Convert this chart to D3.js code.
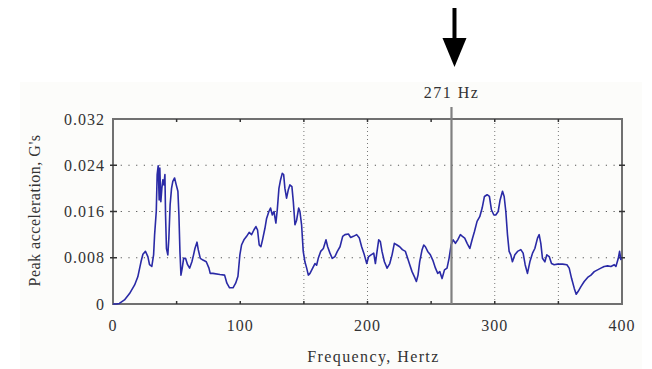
<!DOCTYPE html>
<html>
<head>
<meta charset="utf-8">
<script src="https://cdn.jsdelivr.net/npm/d3@7"></script>
<style>
  body { margin: 0; background: #fff; }
  svg { display: block; }
  text { font-family: "Liberation Serif", "Times New Roman", serif; fill: #333; }
</style>
</head>
<body>
<div id="chart"></div>
<script>
// Frequency (Hz) and peak acceleration (G's)
const freq = [0, 2.5, 5, 9, 13, 17, 19.5, 22, 23.5, 25.5, 27.4, 28.7, 30.5, 31.9, 32.7, 34, 34.7, 35.5, 36.3, 36.8,
  37.6, 38.4, 39.2, 40, 40.8, 41.3, 42, 43.1, 43.9, 44.9, 46, 47, 48.4, 49.7, 51, 51.8, 52.6, 53.4, 54.4, 55.5,
  57, 58.6, 60.2, 62, 63.3, 64.4, 66, 67, 68.6, 70.7, 73.3, 75.4, 76.4, 78.5, 84, 87.7, 89.5, 91.6, 94.3, 96.4,
  98.2, 99.7, 101, 102.9, 105, 107, 108.9, 110.7, 112.3, 113.6, 114.9, 116.2, 117.5, 119.4, 120.7, 122.5, 123.8, 125.2, 126.5, 128,
  129.1, 130.4, 131.7, 133, 134.1, 135.1, 136.4, 137.7, 139, 140.6, 141.7, 143, 144.3, 145.9, 146.9, 148.2, 149.5, 150.8, 152.2, 153.5,
  154.8, 156.9, 158.7, 160, 161.3, 163.2, 165.3, 167.4, 168.7, 170.5, 172.3, 174.4, 176.3, 178.4, 180.5, 182.3, 185, 186.8,
  188.9, 191.5, 193.6, 195.4, 197.5, 199.4, 200.9, 202.8, 204.9, 206.2, 207.5, 208.8, 210.1, 211.4, 213.3, 215.4, 217.5, 219.3,
  221.1, 223.2, 225.3, 227.4, 229.8, 231.1, 233.2, 235, 236.9, 238.4, 239.7, 241, 242.9, 244.2, 245.5, 247.3, 249.4, 251.3,
  253.4, 255.2, 256.8, 258.6, 260.5, 262.5, 264.1, 265.7, 267.3, 269.1, 270.9, 273, 274.6, 276.4, 278.3, 280.4, 282.2, 284,
  286.1, 288.2, 290.1, 291.9, 294, 295.8, 297.4, 299.3, 300.8, 302.7, 304.2, 306.1, 307.4, 308.7, 310, 311.3, 312.6, 313.9,
  315.8, 317.9, 320.5, 322.3, 323.9, 325.7, 327.6, 329.7, 331.5, 333.6, 334.9, 336.2, 337.5, 339.4, 340.9, 342.8, 344.6, 346.7,
  349.3, 353.3, 356.7, 358.5, 360.4, 362.5, 364, 365.6, 367.7, 370.3, 373, 375.6, 378.2, 380.8, 383.4, 386, 388.7, 391.3,
  393.9, 395.2, 397.1, 398.1, 399.2];
const accel = [0, 0, 0.0001, 0.0007, 0.0018, 0.0033, 0.0047, 0.0073, 0.0086, 0.0091, 0.0082, 0.0068, 0.0065, 0.0085, 0.012, 0.016, 0.0224, 0.0239, 0.018, 0.0235,
  0.0177, 0.020, 0.0215, 0.0206, 0.0224, 0.0154, 0.0096, 0.0085, 0.0114, 0.0172, 0.020, 0.0212, 0.0218, 0.0206, 0.0195, 0.0154, 0.0091, 0.005, 0.0062, 0.0079,
  0.0079, 0.0068, 0.0062, 0.0073, 0.0085, 0.0096, 0.0107, 0.0094, 0.0079, 0.0076, 0.0073, 0.0062, 0.0053, 0.0053, 0.0051, 0.005, 0.0036, 0.0028, 0.0028, 0.0036,
  0.0048, 0.0085, 0.0102, 0.0111, 0.0117, 0.0124, 0.012, 0.0128, 0.0134, 0.0128, 0.0102, 0.0099, 0.0111, 0.0131, 0.0148, 0.016, 0.0166, 0.0154, 0.016, 0.014,
  0.0163, 0.020, 0.0215, 0.0226, 0.0224, 0.020, 0.0183, 0.0197, 0.0206, 0.0203, 0.0177, 0.0137, 0.0145, 0.0166, 0.016, 0.0137, 0.0091, 0.0073, 0.0062, 0.005,
  0.0053, 0.0062, 0.007, 0.0067, 0.0079, 0.0091, 0.0096, 0.0111, 0.0099, 0.0088, 0.0079, 0.0082, 0.0091, 0.0099, 0.0117, 0.012, 0.0121, 0.0115,
  0.0117, 0.012, 0.0114, 0.0099, 0.0085, 0.007, 0.0082, 0.0085, 0.0088, 0.007, 0.0091, 0.0111, 0.0108, 0.0091, 0.0073, 0.0062, 0.007, 0.0085,
  0.0105, 0.0102, 0.0099, 0.0094, 0.0091, 0.0082, 0.0068, 0.0056, 0.0047, 0.0039, 0.005, 0.0073, 0.0094, 0.0102, 0.0099, 0.0091, 0.0085, 0.0076,
  0.0062, 0.0053, 0.0056, 0.0044, 0.0059, 0.0062, 0.0079, 0.0102, 0.0111, 0.0105, 0.0111, 0.012, 0.0117, 0.0114, 0.0105, 0.0096, 0.0111, 0.0125,
  0.0143, 0.0151, 0.0166, 0.0186, 0.0189, 0.0186, 0.0163, 0.0154, 0.0154, 0.016, 0.018, 0.0195, 0.0186, 0.016, 0.012, 0.0091, 0.0085, 0.0073,
  0.0085, 0.0091, 0.0094, 0.0088, 0.0068, 0.0053, 0.0073, 0.0088, 0.0096, 0.0114, 0.012, 0.0105, 0.0079, 0.0073, 0.0085, 0.0082, 0.007, 0.0068,
  0.0069, 0.0069, 0.0068, 0.0062, 0.0044, 0.0027, 0.0017, 0.0022, 0.003, 0.0039, 0.0046, 0.005, 0.0056, 0.0059, 0.0062, 0.0065, 0.0066, 0.0065,
  0.0068, 0.0065, 0.0079, 0.0091, 0.0076];

const xTicks = [0, 100, 200, 300, 400];
const xMinorTicks = [50, 100, 150, 200, 250, 300, 350];
const xGrid = [150, 200, 300, 350];
const yTicks = [0, 0.008, 0.016, 0.024, 0.032];
const yTickLabels = ['0', '0.008', '0.016', '0.024', '0.032'];
const markerFreq = 266;
const markerLabel = '271 Hz';

const width = 652, height = 369;
const margin = { top: 119, right: 30, bottom: 65, left: 113 };
const plotW = width - margin.left - margin.right;
const plotH = height - margin.top - margin.bottom;

const svg = d3.select('#chart').append('svg')
  .attr('width', width)
  .attr('height', height);

// light panel behind the chart
svg.append('rect')
  .attr('x', 20).attr('y', 82)
  .attr('width', 622).attr('height', height - 82)
  .attr('fill', '#fcfcfa');

const g = svg.append('g')
  .attr('transform', `translate(${margin.left},${margin.top})`);

const x = d3.scaleLinear().domain([0, 400]).range([0, plotW]);
const y = d3.scaleLinear().domain([0, 0.032]).range([plotH, 0]);

// dotted grid
g.selectAll('.hgrid').data(yTicks.slice(1, -1)).enter().append('line')
  .attr('x1', 0).attr('x2', plotW)
  .attr('y1', d => y(d)).attr('y2', d => y(d))
  .attr('stroke', '#555').attr('stroke-width', 1.2)
  .attr('stroke-dasharray', '1.2,6.5');

g.selectAll('.vgrid').data(xGrid).enter().append('line')
  .attr('x1', d => x(d)).attr('x2', d => x(d))
  .attr('y1', 0).attr('y2', plotH)
  .attr('stroke', '#777').attr('stroke-width', 1)
  .attr('stroke-dasharray', '1,3');

// frame
g.append('rect')
  .attr('width', plotW).attr('height', plotH)
  .attr('fill', 'none')
  .attr('stroke', '#707070').attr('stroke-width', 2);

// small ticks on top and bottom edges
g.selectAll('.ttick').data(xMinorTicks).enter().append('line')
  .attr('x1', d => x(d)).attr('x2', d => x(d))
  .attr('y1', 0).attr('y2', 3)
  .attr('stroke', '#333').attr('stroke-width', 1.5);
g.selectAll('.btick').data(xMinorTicks).enter().append('line')
  .attr('x1', d => x(d)).attr('x2', d => x(d))
  .attr('y1', plotH).attr('y2', plotH - 3)
  .attr('stroke', '#333').attr('stroke-width', 1.5);

// ticks on left and right edges
g.selectAll('.ltick').data(yTicks.slice(1, -1)).enter().append('line')
  .attr('x1', -3).attr('x2', 4)
  .attr('y1', d => y(d)).attr('y2', d => y(d))
  .attr('stroke', '#333').attr('stroke-width', 1.5);
g.selectAll('.rtick').data(yTicks.slice(1, -1)).enter().append('line')
  .attr('x1', plotW - 3).attr('x2', plotW + 3)
  .attr('y1', d => y(d)).attr('y2', d => y(d))
  .attr('stroke', '#333').attr('stroke-width', 1.5);

// tick labels
g.selectAll('.ylab').data(yTicks).enter().append('text')
  .attr('x', -8)
  .attr('y', d => y(d))
  .attr('dy', '0.35em')
  .attr('text-anchor', 'end')
  .style('font-size', '16px')
  .style('letter-spacing', '1px')
  .text((d, i) => yTickLabels[i]);

g.selectAll('.xlab').data(xTicks).enter().append('text')
  .attr('x', d => x(d))
  .attr('y', plotH + 27)
  .attr('text-anchor', 'middle')
  .style('font-size', '16px')
  .style('letter-spacing', '1px')
  .text(d => d);

// axis titles
svg.append('text')
  .attr('x', margin.left + plotW / 2 + 6)
  .attr('y', 362)
  .attr('text-anchor', 'middle')
  .style('font-size', '16px')
  .style('letter-spacing', '1.4px')
  .text('Frequency, Hertz');

svg.append('text')
  .attr('transform', 'rotate(-90)')
  .attr('x', -(margin.top + plotH / 2) + 1)
  .attr('y', 40)
  .attr('text-anchor', 'middle')
  .style('font-size', '16px')
  .style('letter-spacing', '0.5px')
  .text("Peak acceleration, G's");

// spectrum line
const line = d3.line()
  .x((d, i) => x(freq[i]))
  .y(d => y(d));

g.append('path')
  .datum(accel)
  .attr('d', line)
  .attr('fill', 'none')
  .attr('stroke', '#2a2aa6')
  .attr('stroke-width', 1.6)
  .attr('stroke-linejoin', 'round');

// marker line at resonance
g.append('line')
  .attr('x1', x(markerFreq)).attr('x2', x(markerFreq))
  .attr('y1', -12).attr('y2', plotH)
  .attr('stroke', '#808080').attr('stroke-width', 2.2);

g.append('text')
  .attr('x', x(markerFreq))
  .attr('y', -21)
  .attr('text-anchor', 'middle')
  .style('font-size', '16px')
  .style('letter-spacing', '1.5px')
  .text(markerLabel);

// arrow pointing down
const ax = x(markerFreq) + 3;
g.append('line')
  .attr('x1', ax).attr('x2', ax)
  .attr('y1', -111).attr('y2', -80)
  .attr('stroke', '#000').attr('stroke-width', 4);
g.append('path')
  .attr('d', `M${ax - 12},${-81} L${ax + 12},${-81} L${ax},${-52} Z`)
  .attr('fill', '#000');
</script>
</body>
</html>
